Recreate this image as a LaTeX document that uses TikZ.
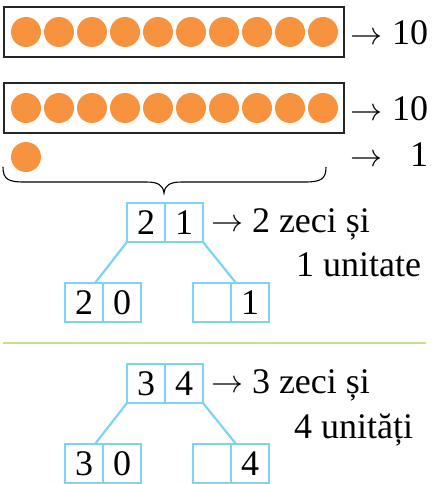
\documentclass[tikz,border=0pt]{standalone}
\usepackage{graphicx}
\usepackage{fontspec}
\setmainfont{Liberation Serif}
\newfontfamily\timesfam{Liberation Serif}
\newcommand\bigfont{\timesfam\fontsize{36}{40}\selectfont}
\newcommand\bigarrow{\scalebox{3.2}{$\rightarrow$}}
\definecolor{dotorange}{HTML}{F7923F}
\definecolor{cellblue}{HTML}{7DD3F7}
\definecolor{rulegreen}{HTML}{C6E08C}
\begin{document}
\begin{tikzpicture}[x=1pt,y=-1pt,
  dot/.style={circle,fill=dotorange,minimum size=30,inner sep=0,outer sep=0},
  tenbox/.style={draw=black!85,line width=1.1,minimum width=340,minimum height=50,inner sep=0,outer sep=0},
  cell/.style={draw=cellblue,line width=2.4,minimum width=38,minimum height=39,inner sep=0,outer sep=0,font=\bigfont},
  link/.style={draw=cellblue,line width=2.2},
  lbl/.style={anchor=base west,inner sep=0,outer sep=0,font=\bigfont},
  num/.style={anchor=base east,inner sep=0,outer sep=0,font=\bigfont},
  arr/.style={anchor=base west,inner sep=0,outer sep=0}]
\useasboundingbox (0,0) rectangle (431,484);
% row boxes of ten
\node[tenbox] (boxA) at (174,32) {};
\node[tenbox] (boxB) at (174,108) {};
\foreach \i in {0,...,9} {
  \node[dot] (a\i) at ({26+33*\i},32) {};
  \node[dot] (b\i) at ({26+33*\i},108) {};
}
\node[dot] (c0) at (26,157) {};
% arrows and counts
\node[arr] (arA) at (350,45) {\bigarrow};
\node[num] (nA) at (428,45) {10};
\node[arr] (arB) at (350,121) {\bigarrow};
\node[num] (nB) at (428,121) {10};
\node[arr] (arC) at (350,166) {\bigarrow};
\node[num] (nC) at (428,166) {1};
% brace
\draw[line width=1.1] (3,167) .. controls (3,179) and (8,182) .. (24,182) -- (146,182)
  .. controls (158,182) and (163,185) .. (164,193)
  .. controls (165,185) and (170,182) .. (182,182) -- (305,182)
  .. controls (321,182) and (326,179) .. (326,167);
% first tree
\node[cell] (t1) at (146,222.5) {2};
\node[cell] (t2) at (184,222.5) {1};
\node[cell] (l1) at (84,302.5) {2};
\node[cell] (l2) at (122,302.5) {0};
\node[cell] (r1) at (212,302.5) {};
\node[cell] (r2) at (250,302.5) {1};
\draw[link] (t1.south west) -- ([xshift=-8]l2.north west);
\draw[link] (t2.south east) -- ([xshift=5]r2.north west);
\node[arr] (arT) at (211,231) {\bigarrow};
\node[lbl] (txA) at (252,232) {2 zeci și};
\node[lbl] (txB) at (296,276) {1 unitate};
% separator
\coordinate (gL) at (3,343);
\coordinate (gR) at (426,343);
\draw[rulegreen,line width=2] (gL) -- (gR);
% second tree
\node[cell] (u1) at (146,383.5) {3};
\node[cell] (u2) at (184,383.5) {4};
\node[cell] (m1) at (84,463.5) {3};
\node[cell] (m2) at (122,463.5) {0};
\node[cell] (s1) at (212,463.5) {};
\node[cell] (s2) at (250,463.5) {4};
\draw[link] (u1.south west) -- ([xshift=-8]m2.north west);
\draw[link] (u2.south east) -- ([xshift=5]s2.north west);
\node[arr] (arU) at (211,392) {\bigarrow};
\node[lbl] (txC) at (252,393) {3 zeci și};
\node[lbl] (txD) at (294,438) {4 unități};
\end{tikzpicture}
\end{document}
